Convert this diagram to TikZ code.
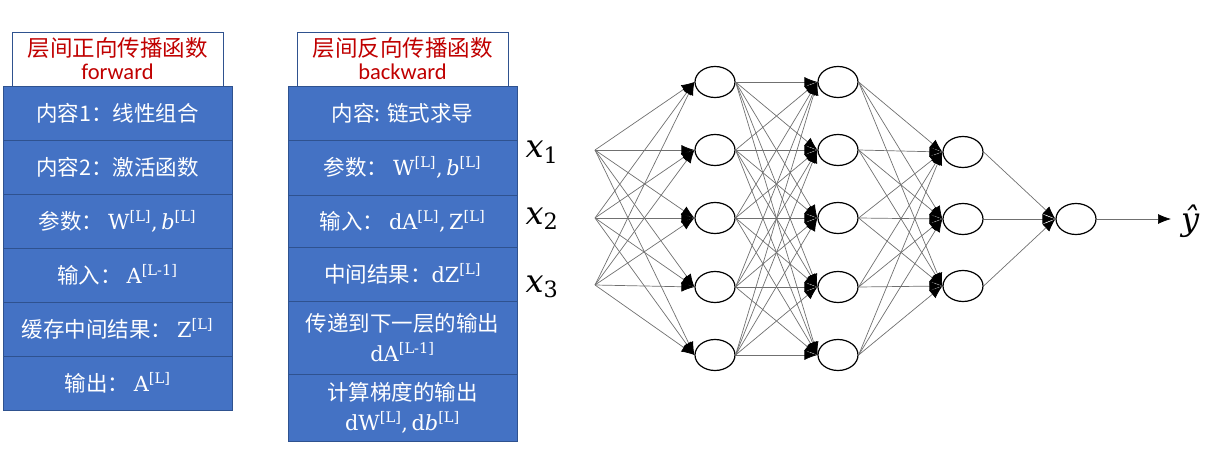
\RequirePackage{fix-cm}
\documentclass[tikz,border=0pt]{standalone}
\usepackage{fontspec}
\newfontfamily\cjk{Noto Sans CJK SC}
\newfontfamily\latin{Carlito}
\newfontfamily\mfont[Scale=0.97]{DejaVu Serif}
\newfontfamily\nfont{DejaVu Serif}
\usetikzlibrary{arrows.meta,shapes.geometric}

\definecolor{cellblue}{HTML}{4472C4}
\definecolor{celledge}{HTML}{2F528F}
\definecolor{headred}{HTML}{C00000}
\definecolor{wiregray}{HTML}{707070}

% formula pieces in the cells
\newcommand{\fm}[1]{{\mfont #1}}
\newcommand{\lay}[1]{\textsuperscript{\mfont[#1]}}

\tikzset{
  headbox/.style={draw=celledge, line width=0.9pt, fill=white, text=headred,
    minimum width=211, minimum height=54, inner sep=0, align=center,
    font=\cjk\fontsize{22.5}{26}\selectfont},
  cellbox/.style={draw=celledge, line width=0.9pt, fill=cellblue, text=white,
    minimum width=229, inner sep=0, align=center,
    font=\cjk\fontsize{21.5}{30}\selectfont},
  neuron/.style={ellipse, draw, line width=1.2pt, fill=white,
    minimum width=40, minimum height=31, inner sep=0},
  wire/.style={draw=wiregray, line width=0.7pt,
    -{Latex[color=black,length=13pt,width=10pt]}},
  varlabel/.style={font=\nfont\itshape\fontsize{32}{35}\selectfont, inner sep=0}
}

\begin{document}
\begin{tikzpicture}[x=1pt,y=-1pt]
  \useasboundingbox (0,0) rectangle (1217,457);

  % forward column
  \node[headbox] (fhead) at (117.5,59) {层间正向传播函数\\[-3pt]{\latin forward}};
  \node[cellbox, minimum height=54] (f1) at (117.5,113) {内容1：线性组合};
  \node[cellbox, minimum height=54] (f2) at (117.5,167) {内容2：激活函数};
  \node[cellbox, minimum height=54] (f3) at (117.5,221) {参数：\ \fm{W}\lay{L}\fm{,\,\itshape b}\lay{L}};
  \node[cellbox, minimum height=54] (f4) at (117.5,275) {输入：\ \fm{A}\lay{L-1}};
  \node[cellbox, minimum height=54] (f5) at (117.5,329) {缓存中间结果：\ \fm{Z}\lay{L}};
  \node[cellbox, minimum height=54] (f6) at (117.5,383) {输出：\ \fm{A}\lay{L}};

  % backward column
  \node[headbox] (bhead) at (402.5,59) {层间反向传播函数\\[-3pt]{\latin backward}};
  \node[cellbox, minimum height=54] (b1) at (402.5,113) {内容: 链式求导};
  \node[cellbox, minimum height=55] (b2) at (402.5,167.5) {参数：\ \fm{W}\lay{L}\fm{,\,\itshape b}\lay{L}};
  \node[cellbox, minimum height=52] (b3) at (402.5,221) {输入：\ \fm{dA}\lay{L}\fm{,\,Z}\lay{L}};
  \node[cellbox, minimum height=54] (b4) at (402.5,274) {中间结果：\fm{dZ}\lay{L}};
  \node[cellbox, minimum height=73] (b5) at (402.5,337.5) {传递到下一层的输出\\\fm{dA}\lay{L-1}};
  \node[cellbox, minimum height=67] (b6) at (402.5,407.5) {计算梯度的输出\\\fm{dW}\lay{L}\fm{,\,d\itshape b}\lay{L}};

  % network
  \foreach \y [count=\k] in {150,218,285}
    \coordinate (in\k) at (595,\y);
  \foreach \y [count=\k] in {82,150,218,287,355} {
    \node[neuron] (h\k) at (715,\y) {};
    \node[neuron] (g\k) at (838,\y) {};
  }
  \foreach \y [count=\k] in {152,219,286}
    \node[neuron] (m\k) at (963,\y) {};
  \node[neuron] (out) at (1076,219) {};

  \node[varlabel, anchor=base] (x1) at (542,158) {x\textsubscript{\upshape 1}};
  \node[varlabel, anchor=base] (x2) at (542,224) {x\textsubscript{\upshape 2}};
  \node[varlabel, anchor=base] (x3) at (542,292) {x\textsubscript{\upshape 3}};
  \node[varlabel, anchor=base west] (yhat) at (1181,230) {ŷ};

  \foreach \s in {1,2,3}
    \foreach \t in {1,...,5}
      \draw[wire] (in\s) -- (h\t.west);
  \foreach \s in {1,...,5}
    \foreach \t in {1,...,5}
      \draw[wire] (h\s.east) -- (g\t.west);
  \foreach \s in {1,...,5}
    \foreach \t in {1,2,3}
      \draw[wire] (g\s.east) -- (m\t.west);
  \foreach \s in {1,2,3}
    \draw[wire] (m\s.east) -- (out.west);
  \draw[wire, shorten >=10pt] (out.east) -- (yhat.west |- out.east);
\end{tikzpicture}
\end{document}
